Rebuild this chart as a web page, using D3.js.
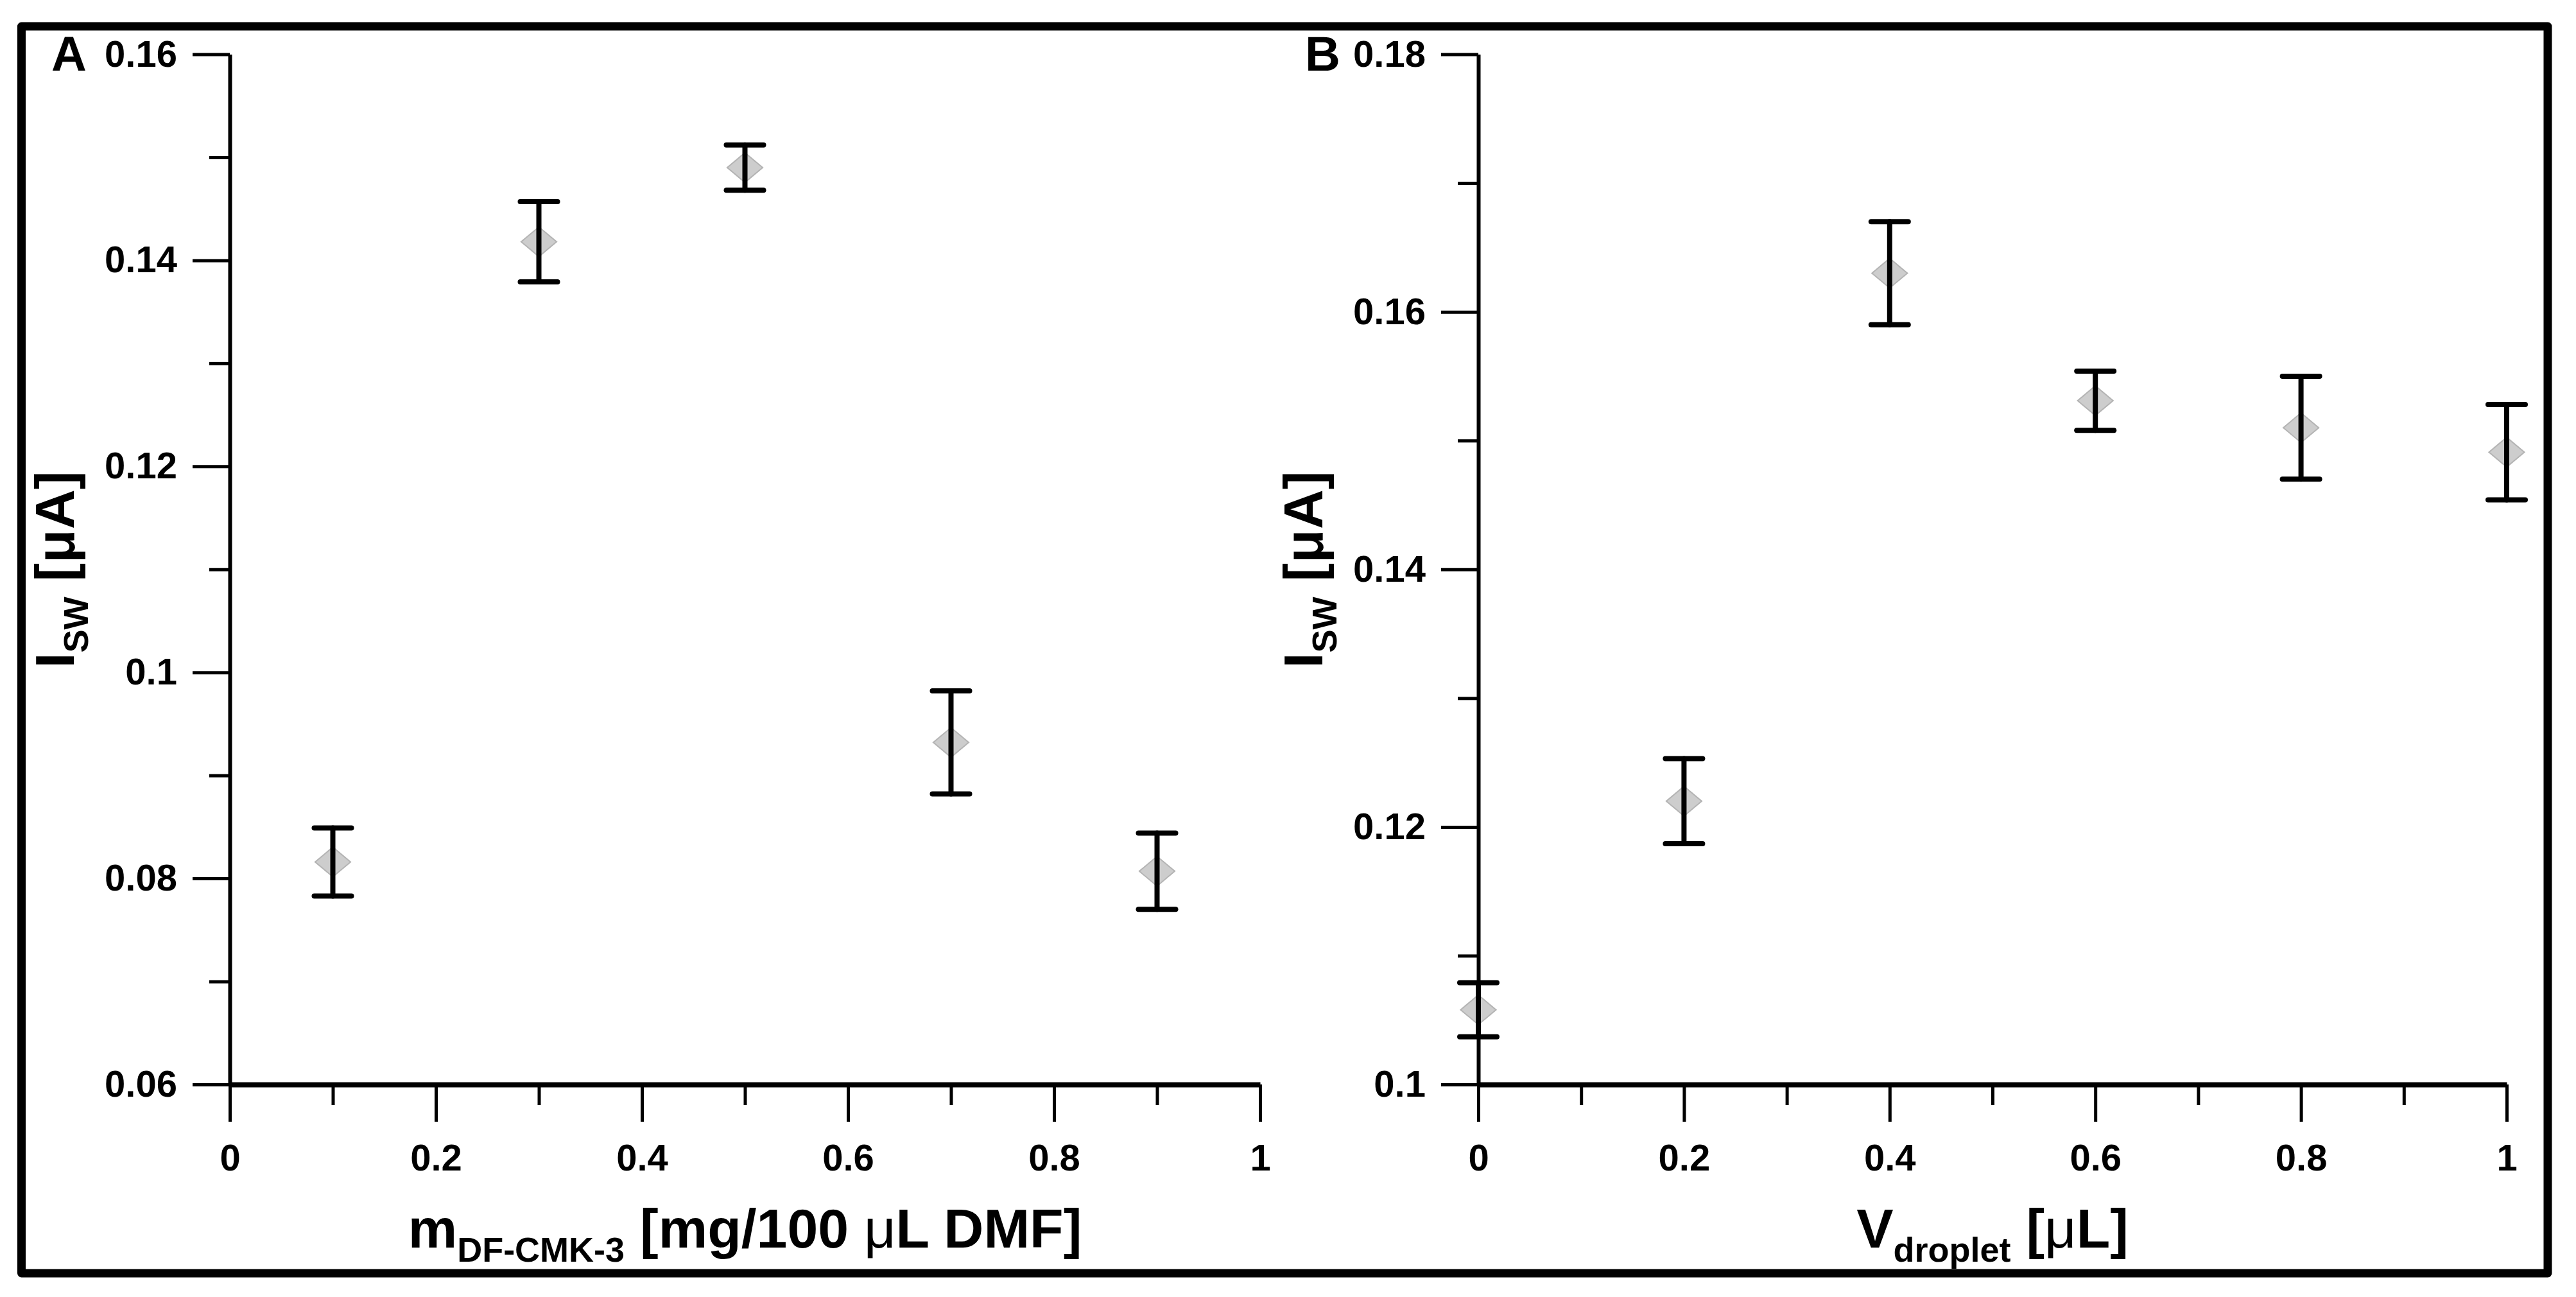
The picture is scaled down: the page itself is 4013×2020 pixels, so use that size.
<!DOCTYPE html>
<html>
<head>
<meta charset="utf-8">
<script src="https://cdn.jsdelivr.net/npm/d3@7"></script>
<style>
  html, body { margin: 0; padding: 0; background: #fff; }
  svg { display: block; }
  text { font-family: "Liberation Sans", Arial, sans-serif; font-weight: bold; fill: #000; }
</style>
</head>
<body>
<svg id="chart" width="4013" height="2020"></svg>
<script>
// ---------- data ----------
const xA = [0.1, 0.3, 0.5, 0.7, 0.9];
const meanA = [0.0816, 0.1418, 0.1490, 0.0932, 0.0807];
const errA = [0.0033, 0.0039, 0.0022, 0.0050, 0.0037];

const xB = [0, 0.2, 0.4, 0.6, 0.8, 1.0];
const meanB = [0.1058, 0.1220, 0.1630, 0.1531, 0.1510, 0.1491];
const errB = [0.0021, 0.0033, 0.0040, 0.0023, 0.0040, 0.0037];

const xTickLabels = ["0", "0.2", "0.4", "0.6", "0.8", "1"];
const xTickValues = [0, 0.2, 0.4, 0.6, 0.8, 1];
const xMinorValues = [0.1, 0.3, 0.5, 0.7, 0.9];

const yTickLabelsA = ["0.06", "0.08", "0.1", "0.12", "0.14", "0.16"];
const yTickValuesA = [0.06, 0.08, 0.10, 0.12, 0.14, 0.16];
const yMinorValuesA = [0.07, 0.09, 0.11, 0.13, 0.15];

const yTickLabelsB = ["0.1", "0.12", "0.14", "0.16", "0.18"];
const yTickValuesB = [0.10, 0.12, 0.14, 0.16, 0.18];
const yMinorValuesB = [0.11, 0.13, 0.15, 0.17];

// ---------- layout ----------
const svg = d3.select("#chart");
svg.append("rect").attr("x", 33.5).attr("y", 41).attr("width", 3935.5).attr("height", 1942)
  .attr("fill", "none").attr("stroke", "#000").attr("stroke-width", 13)
  .attr("stroke-linejoin", "round");

function panel(opts) {
  const g = svg.append("g");
  const x = d3.scaleLinear().domain([0, 1]).range([opts.x0, opts.x1]);
  const y = d3.scaleLinear().domain(opts.yDomain).range([1689, 84.5]);

  // minor ticks
  const xMinor = g.append("g").attr("transform", `translate(0,${y.range()[0]})`)
    .call(d3.axisBottom(x).tickValues(xMinorValues).tickSize(32).tickSizeOuter(0).tickFormat(""));
  const yMinor = g.append("g").attr("transform", `translate(${opts.x0},0)`)
    .call(d3.axisLeft(y).tickValues(opts.yMinor).tickSize(32).tickSizeOuter(0).tickFormat(""));
  [xMinor, yMinor].forEach(a => { a.select(".domain").remove(); a.selectAll("line").attr("stroke-width", 5); });

  // major axes
  const xAxis = g.append("g").attr("transform", `translate(0,${y.range()[0]})`)
    .call(d3.axisBottom(x).tickValues(xTickValues).tickSize(58).tickSizeOuter(0).tickPadding(35)
      .tickFormat((d, i) => xTickLabels[i]));
  xAxis.select(".domain").attr("stroke-width", 8);
  xAxis.selectAll("line").attr("stroke-width", 5);
  xAxis.selectAll("text").style("font-size", "58px").style("font-weight", "bold")
    .style("font-family", '"Liberation Sans", Arial, sans-serif');

  const yAxis = g.append("g").attr("transform", `translate(${opts.x0},0)`)
    .call(d3.axisLeft(y).tickValues(opts.yTicks).tickSize(58).tickSizeOuter(0).tickPadding(24)
      .tickFormat((d, i) => opts.yLabels[i]));
  yAxis.select(".domain").attr("stroke-width", 6);
  yAxis.selectAll("line").attr("stroke-width", 5);
  yAxis.selectAll("text").style("font-size", "58px").style("font-weight", "bold")
    .style("font-family", '"Liberation Sans", Arial, sans-serif');

  // data: diamonds then error bars
  const pts = opts.xs.map((v, i) => ({ x: v, m: opts.means[i], e: opts.errs[i] }));
  const sym = d3.symbol().type(d3.symbolSquare).size(1260);
  g.append("g").selectAll("path").data(pts).join("path")
    .attr("d", sym)
    .attr("transform", p => `translate(${x(p.x)},${y(p.m)}) scale(1.1,0.92) rotate(45)`)
    .attr("fill", "#c8c8c8").attr("fill-opacity", 0.9)
    .attr("stroke", "#b4b4b4").attr("stroke-width", 2);

  const eb = g.append("g").attr("stroke", "#000").attr("stroke-width", 8).attr("stroke-linecap", "round");
  pts.forEach(p => {
    eb.append("line").attr("x1", x(p.x)).attr("x2", x(p.x)).attr("y1", y(p.m - p.e)).attr("y2", y(p.m + p.e));
    eb.append("line").attr("x1", x(p.x) - 29).attr("x2", x(p.x) + 29).attr("y1", y(p.m - p.e)).attr("y2", y(p.m - p.e));
    eb.append("line").attr("x1", x(p.x) - 29).attr("x2", x(p.x) + 29).attr("y1", y(p.m + p.e)).attr("y2", y(p.m + p.e));
  });

  // panel letter
  g.append("text").attr("x", opts.letterX).attr("y", 110).style("font-size", "76px").text(opts.letter);

  // y label
  const yl = g.append("text")
    .attr("transform", `translate(${opts.yLabelX},887) rotate(-90)`)
    .attr("text-anchor", "middle").style("font-size", "86px");
  yl.append("tspan").text("I");
  yl.append("tspan").attr("dy", 22).style("font-size", "54px").text("SW");
  yl.append("tspan").attr("dy", -22).text(" [μA]");

  // x label
  const xl = g.append("text").attr("x", (opts.x0 + opts.x1) / 2).attr("y", 1943)
    .attr("text-anchor", "middle").style("font-size", "86px");
  xl.append("tspan").text(opts.xMain);
  xl.append("tspan").attr("dy", 22).style("font-size", "54px").text(opts.xSub);
  xl.append("tspan").attr("dy", -22).text(" [" + opts.xPre);
  xl.append("tspan").style("font-weight", "normal").text("μ");
  xl.append("tspan").text(opts.xPost + "]");
}

panel({
  x0: 358, x1: 1963, yDomain: [0.06, 0.16],
  yTicks: yTickValuesA, yLabels: yTickLabelsA, yMinor: yMinorValuesA,
  xs: xA, means: meanA, errs: errA,
  letter: "A", letterX: 80, yLabelX: 115,
  xMain: "m", xSub: "DF-CMK-3", xPre: "mg/100 ", xPost: "L DMF"
});

panel({
  x0: 2303, x1: 3905, yDomain: [0.10, 0.18],
  yTicks: yTickValuesB, yLabels: yTickLabelsB, yMinor: yMinorValuesB,
  xs: xB, means: meanB, errs: errB,
  letter: "B", letterX: 2033, yLabelX: 2060,
  xMain: "V", xSub: "droplet", xPre: "", xPost: "L"
});
</script>
</body>
</html>
